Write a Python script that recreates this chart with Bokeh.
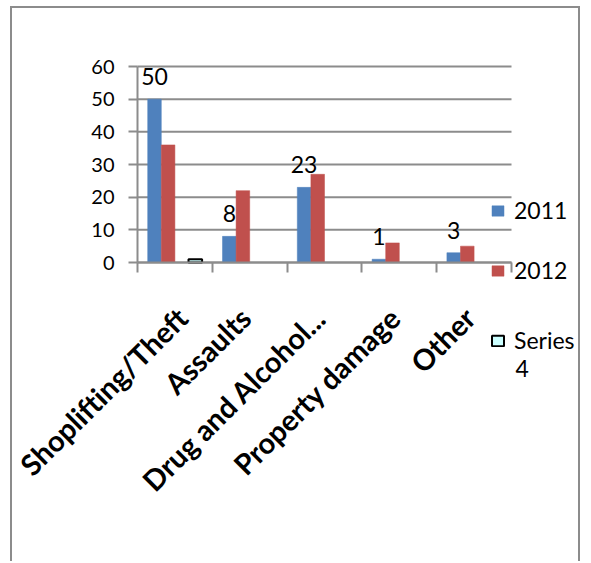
import numpy as np
from bokeh.plotting import figure
from bokeh.core.properties import value
from bokeh.models import (ColumnDataSource, FixedTicker, Legend, LegendItem,
                          Label, LabelSet, Range1d)
from bokeh.embed import file_html
from bokeh.resources import INLINE

# ---- data -------------------------------------------------------------
categories = ["Shoplifting/Theft", "Assaults", "Drug and Alcohol...",
              "Property damage", "Other"]
values_2011 = [50, 8, 23, 1, 3]
values_2012 = [36, 22, 27, 6, 5]
values_series4 = [1, None, None, None, None]
y_ticks = [0, 10, 20, 30, 40, 50, 60]

# ---- style --------------------------------------------------------------
BLUE = "#4F81BD"
RED = "#C0504D"
CYAN = "#CCFFFF"
GRID = "#8c8c8c"
FONT = "Lato"

# canvas and plot-area geometry (pixels)
W, H = 570, 555
AREA_LEFT, AREA_W = 125, 374      # category axis span
AREA_TOP, AREA_H = 58, 196        # value axis span
Y_MAX = y_ticks[-1]
N = len(categories)
LABEL_NUDGE = -0.06               # slanted labels sit a touch left of centre

# four series slots per category (the third slot has no data), 150% gap
n_slots = 4
gap = 1.5
bar_w = 1.0 / (n_slots + gap)
idx = np.arange(N)


def slot_x(k):
    return idx + gap * bar_w / 2 + (k + 0.5) * bar_w


def as_float(vals):
    return [np.nan if v is None else float(v) for v in vals]


src = ColumnDataSource(dict(
    x2011=slot_x(0), x2012=slot_x(1), xs4=slot_x(3),
    v2011=as_float(values_2011), v2012=as_float(values_2012),
    vs4=as_float(values_series4),
    lbl=[str(v) for v in values_2011],
))

# the frame fills the canvas; axes are pinned at x=0 / y=0 inside it
px_x = AREA_W / N
px_y = AREA_H / Y_MAX
x_range = Range1d(-AREA_LEFT / px_x, (W - AREA_LEFT) / px_x)
y_range = Range1d(-(H - AREA_TOP - AREA_H) / px_y, Y_MAX + AREA_TOP / px_y)

p = figure(width=W, height=H, x_range=x_range, y_range=y_range,
           output_backend="svg", toolbar_location=None,
           min_border=0, min_border_left=0, min_border_right=0,
           min_border_top=0, min_border_bottom=0)
p.styles = {"margin-left": "10px", "margin-top": "6px",
            "border-left": f"2px solid {GRID}",
            "border-top": f"2px solid {GRID}",
            "border-right": f"2px solid {GRID}"}
p.outline_line_color = None
p.background_fill_color = "white"
p.border_fill_color = "white"
p.xgrid.visible = False
p.ygrid.visible = False

# horizontal gridlines across the category span only
p.segment(x0=0, x1=N, y0=y_ticks, y1=y_ticks, line_color=GRID, line_width=2)

# y axis
p.yaxis.fixed_location = 0
p.yaxis.bounds = (0, Y_MAX)
p.yaxis.ticker = FixedTicker(ticks=y_ticks)
p.yaxis.axis_line_color = GRID
p.yaxis.axis_line_width = 2
p.yaxis.major_tick_line_color = GRID
p.yaxis.major_tick_line_width = 2
p.yaxis.major_tick_in = 0
p.yaxis.major_tick_out = 9
p.yaxis.minor_tick_line_color = None
p.yaxis.major_label_standoff = 14
p.yaxis.major_label_text_font = FONT
p.yaxis.major_label_text_font_size = "20px"
p.yaxis.major_label_text_color = "black"

# x axis: labels at category centres, tick marks at category boundaries
centres = [round(float(i) + 0.5 + LABEL_NUDGE, 4) for i in idx]
bounds = [float(i) for i in range(N + 1)]
p.xaxis.fixed_location = 0
p.xaxis.bounds = (0, N)
p.xaxis.ticker = FixedTicker(ticks=centres, minor_ticks=bounds)
p.xaxis.major_label_overrides = {c: name for c, name in zip(centres, categories)}
p.xaxis.major_label_orientation = np.pi / 4
p.xaxis.axis_line_color = GRID
p.xaxis.axis_line_width = 2
p.xaxis.major_tick_line_color = None
p.xaxis.major_tick_in = 0
p.xaxis.major_tick_out = 0
p.xaxis.minor_tick_line_color = GRID
p.xaxis.minor_tick_line_width = 2
p.xaxis.minor_tick_in = 0
p.xaxis.minor_tick_out = 10
p.xaxis.major_label_standoff = 40
p.xaxis.major_label_text_font = FONT
p.xaxis.major_label_text_font_style = "bold"
p.xaxis.major_label_text_font_size = "29px"
p.xaxis.major_label_text_color = "black"

# bars
r2011 = p.vbar(x="x2011", top="v2011", width=bar_w, source=src,
               fill_color=BLUE, line_color=BLUE, line_width=0.5)
r2012 = p.vbar(x="x2012", top="v2012", width=bar_w, source=src,
               fill_color=RED, line_color=RED, line_width=0.5)
rs4 = p.vbar(x="xs4", top="vs4", width=bar_w, source=src,
             fill_color=CYAN, line_color="black", line_width=2)

# data labels for 2011
p.add_layout(LabelSet(x="x2011", y="v2011", text="lbl", source=src,
                      y_offset=14, text_align="center",
                      text_baseline="alphabetic", text_font=value(FONT),
                      text_font_size="23px", text_color="black"))


# legend entries, each placed on its own
def make_entry(label, renderer, x, y):
    return Legend(items=[LegendItem(label=label, renderers=[renderer])],
                  location=(x, y), padding=0, margin=0, spacing=0,
                  glyph_width=15, glyph_height=13, label_standoff=9,
                  label_text_font=FONT, label_text_font_size="23px",
                  label_text_color="black", border_line_color=None,
                  background_fill_alpha=0)


p.add_layout(make_entry("2011", r2011, 478, 339))
p.add_layout(make_entry("2012", r2012, 478, 279))
p.add_layout(make_entry("Series", rs4, 478, 209))
# the long legend name wraps onto a second line
p.add_layout(Label(x=503, y=195, x_units="screen", y_units="screen",
                   text="4", text_font=FONT, text_font_size="23px",
                   text_color="black", text_baseline="alphabetic"))

open("out.html", "w").write(file_html(p, INLINE))
